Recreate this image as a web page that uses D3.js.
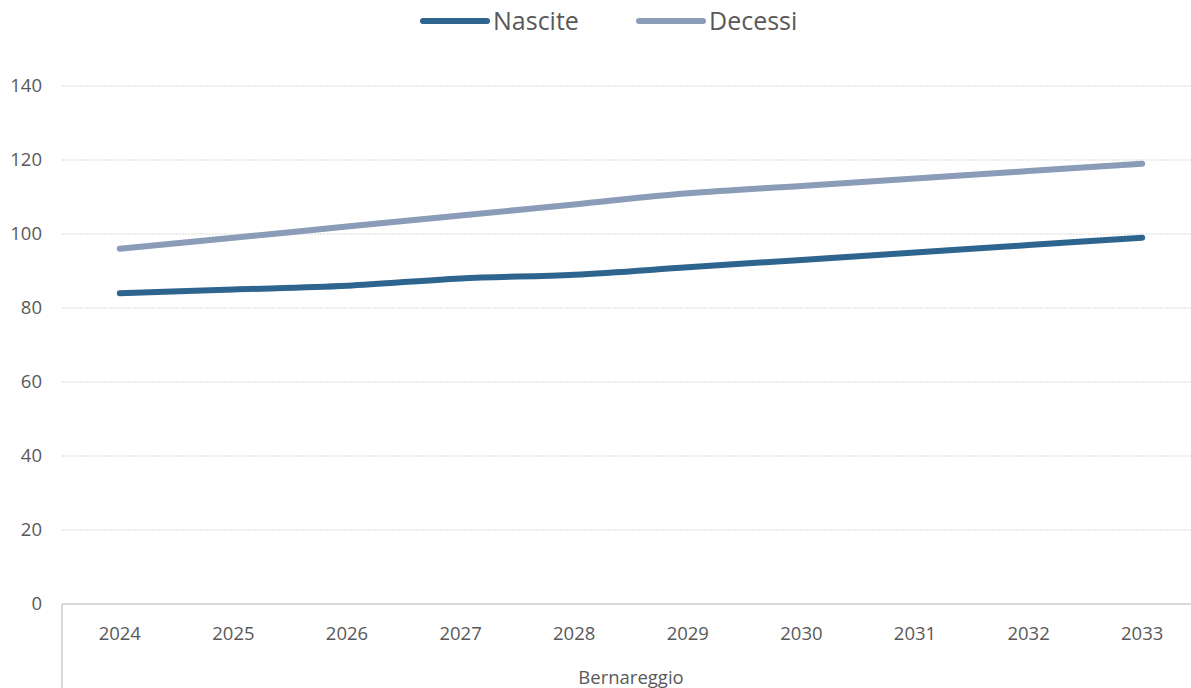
<!DOCTYPE html>
<html>
<head>
<meta charset="utf-8">
<script src="https://cdn.jsdelivr.net/npm/d3@7"></script>
<style>
  body { margin: 0; background: #fff; }
  svg { display: block; font-family: "Open Sans", "Noto Sans", sans-serif; }
</style>
</head>
<body>
<svg width="1191" height="688"></svg>
<script>
// chart data
const years = ["2024", "2025", "2026", "2027", "2028", "2029", "2030", "2031", "2032", "2033"];
const nascite = [84, 85, 86, 88, 89, 91, 93, 95, 97, 99];
const decessi = [96, 99, 102, 105, 108, 111, 113, 115, 117, 119];
const yTicks = [0, 20, 40, 60, 80, 100, 120, 140];
const groupLabel = "Bernareggio";

const series = [
  { name: "Nascite", values: nascite, color: "#2e658f" },
  { name: "Decessi", values: decessi, color: "#8a9cb8" },
];

const svg = d3.select("svg");
const margin = { top: 86, right: 0, bottom: 84, left: 62 };
const width = +svg.attr("width") - margin.left - margin.right;
const height = +svg.attr("height") - margin.top - margin.bottom;

const g = svg.append("g").attr("transform", `translate(${margin.left},${margin.top})`);

const xScale = d3.scaleBand().domain(years).range([1, 1137]);
const yScale = d3.scaleLinear().domain([0, 140]).range([height, 0]);

// gridlines
g.selectAll(".grid")
  .data(yTicks.filter((d) => d > 0))
  .enter()
  .append("line")
  .attr("class", "grid")
  .attr("x1", 0)
  .attr("x2", width)
  .attr("y1", (d) => yScale(d))
  .attr("y2", (d) => yScale(d))
  .attr("stroke", "#d9d9d9")
  .attr("stroke-width", 1)
  .attr("stroke-dasharray", "2,1");

// y labels
g.selectAll(".ylab")
  .data(yTicks)
  .enter()
  .append("text")
  .attr("class", "ylab")
  .attr("x", -20)
  .attr("y", (d) => yScale(d))
  .attr("dy", "0.35em")
  .attr("text-anchor", "end")
  .attr("fill", "#595959")
  .style("font-size", "18.5px")
  .text((d) => d);

// x axis line and group divider
g.append("line")
  .attr("x1", 0)
  .attr("x2", width)
  .attr("y1", height)
  .attr("y2", height)
  .attr("stroke", "#d9d9d9")
  .attr("stroke-width", 2);

g.append("line")
  .attr("x1", 0)
  .attr("x2", 0)
  .attr("y1", height)
  .attr("y2", height + margin.bottom)
  .attr("stroke", "#d9d9d9")
  .attr("stroke-width", 2);

// x labels
g.selectAll(".xlab")
  .data(years)
  .enter()
  .append("text")
  .attr("class", "xlab")
  .attr("x", (d) => xScale(d) + xScale.bandwidth() / 2)
  .attr("y", height + 30)
  .attr("dy", "0.35em")
  .attr("text-anchor", "middle")
  .attr("fill", "#595959")
  .style("font-size", "18.5px")
  .text((d) => d);

g.append("text")
  .attr("x", 1138 / 2)
  .attr("y", height + 74)
  .attr("dy", "0.35em")
  .attr("text-anchor", "middle")
  .attr("fill", "#595959")
  .style("font-size", "18.5px")
  .text(groupLabel);

// lines
const line = d3
  .line()
  .x((d, i) => xScale(years[i]) + xScale.bandwidth() / 2)
  .y((d) => yScale(d))
  .curve(d3.curveCatmullRom.alpha(0.5));

g.selectAll(".series")
  .data(series)
  .enter()
  .append("path")
  .attr("class", "series")
  .attr("d", (d) => line(d.values))
  .attr("fill", "none")
  .attr("stroke", (d) => d.color)
  .attr("stroke-width", 6)
  .attr("stroke-linecap", "round")
  .attr("stroke-linejoin", "round");

// legend
const legendX = [423, 639];
const legend = svg
  .selectAll(".legend")
  .data(series)
  .enter()
  .append("g")
  .attr("class", "legend")
  .attr("transform", (d, i) => `translate(${legendX[i]},21)`);

legend
  .append("line")
  .attr("x1", 0)
  .attr("x2", 64)
  .attr("stroke", (d) => d.color)
  .attr("stroke-width", 6)
  .attr("stroke-linecap", "round");

legend
  .append("text")
  .attr("x", 70)
  .attr("dy", "0.35em")
  .attr("fill", "#595959")
  .style("font-size", "25px")
  .text((d) => d.name);
</script>
</body>
</html>
